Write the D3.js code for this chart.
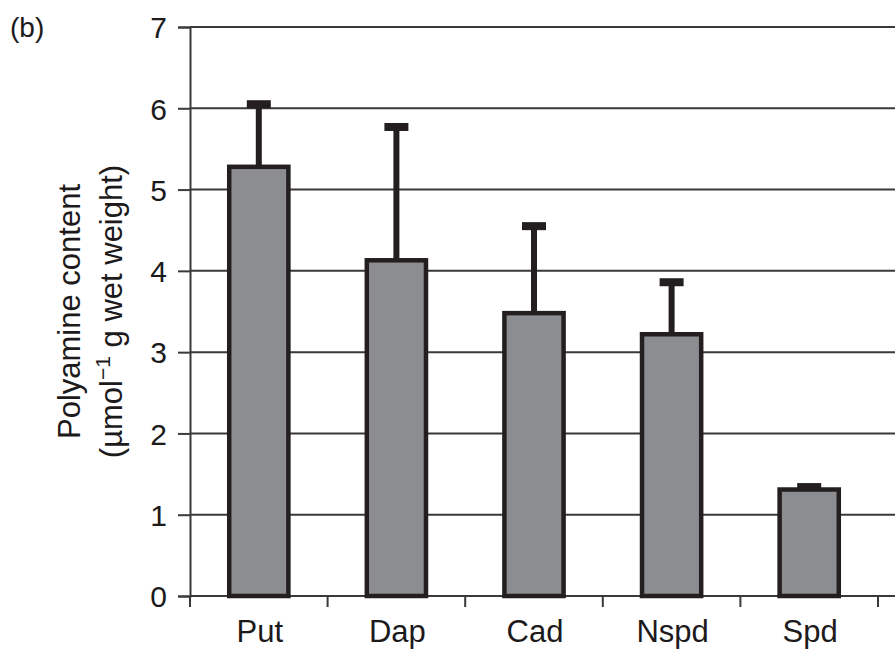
<!DOCTYPE html>
<html>
<head>
<meta charset="utf-8">
<script src="https://cdn.jsdelivr.net/npm/d3@7"></script>
<style>
  html, body { margin: 0; padding: 0; background: #fff; }
  svg { display: block; }
  text { font-family: "Liberation Sans", Arial, Helvetica, sans-serif; fill: #1c1a1b; }
</style>
</head>
<body>
<svg id="chart" width="895" height="649"></svg>
<script>
// Polyamine content per compound (mean and upper error limit)
const categories = ["Put", "Dap", "Cad", "Nspd", "Spd"];
const means      = [5.28, 4.13, 3.48, 3.22, 1.31];
const upperError = [6.05, 5.77, 4.55, 3.86, 1.34];
const yTicks     = [0, 1, 2, 3, 4, 5, 6, 7];

const width = 895, height = 649;
const margin = { top: 27, left: 190, bottom: 53 };
const plotRight = 878;

const svg = d3.select("#chart");

const x = d3.scaleBand()
  .domain(categories)
  .range([margin.left, plotRight])
  .padding(0);

const y = d3.scaleLinear()
  .domain([0, 7])
  .range([height - margin.bottom, margin.top]);

const ink = "#231f20";

// horizontal gridlines, running out to the edge of the figure
svg.append("g")
  .selectAll("line")
  .data(yTicks.filter(d => d > 0))
  .join("line")
  .attr("x1", margin.left)
  .attr("x2", width)
  .attr("y1", d => y(d))
  .attr("y2", d => y(d))
  .attr("stroke", "#3a3839")
  .attr("stroke-width", 2);

// y axis
const yAxis = svg.append("g")
  .attr("transform", `translate(${margin.left},0)`)
  .call(d3.axisLeft(y).tickValues(yTicks).tickSize(12).tickPadding(11).tickFormat(d3.format("d")));
yAxis.select(".domain").attr("stroke", "#3a3839").attr("stroke-width", 2);
yAxis.selectAll(".tick line").attr("stroke", "#3a3839").attr("stroke-width", 2);
yAxis.selectAll(".tick text")
  .attr("font-size", 30)
  .attr("dy", "0.36em")
  .style("fill", "#1c1a1b");

// x axis: ticks on category boundaries
const xAxisG = svg.append("g");
xAxisG.append("line")
  .attr("x1", margin.left).attr("x2", width)
  .attr("y1", y(0)).attr("y2", y(0))
  .attr("stroke", "#3a3839").attr("stroke-width", 2);
const boundaries = categories.map(c => x(c)).concat([x(categories[categories.length - 1]) + x.bandwidth()]);
xAxisG.selectAll("line.tick")
  .data(boundaries)
  .join("line")
  .attr("class", "tick")
  .attr("x1", d => d).attr("x2", d => d)
  .attr("y1", y(0)).attr("y2", y(0) + 11)
  .attr("stroke", "#3a3839").attr("stroke-width", 2);
xAxisG.selectAll("text")
  .data(categories)
  .join("text")
  .attr("x", d => x(d) + x.bandwidth() / 2 + 1)
  .attr("y", y(0) + 46)
  .attr("text-anchor", "middle")
  .attr("font-size", 31)
  .text(d => d);

const barW = x.bandwidth() * 0.43;
const cx = d => x(d) + x.bandwidth() / 2;

// error bars (upper only)
const err = svg.append("g");
err.selectAll("line")
  .data(categories)
  .join("line")
  .attr("x1", d => cx(d)).attr("x2", d => cx(d))
  .attr("y1", (d, i) => y(means[i]))
  .attr("y2", (d, i) => y(upperError[i]))
  .attr("stroke", ink)
  .attr("stroke-width", 6);
err.selectAll("rect")
  .data(categories)
  .join("rect")
  .attr("x", d => cx(d) - 12)
  .attr("width", 24)
  .attr("y", (d, i) => y(upperError[i]) - 4)
  .attr("height", 8)
  .attr("fill", ink);

// bars
svg.append("g")
  .selectAll("rect")
  .data(categories)
  .join("rect")
  .attr("x", d => cx(d) - barW / 2)
  .attr("width", barW)
  .attr("y", (d, i) => y(means[i]))
  .attr("height", (d, i) => y(0) - y(means[i]))
  .attr("fill", "#8c8d91")
  .attr("stroke", ink)
  .attr("stroke-width", 4.5);

// y axis title
const title = svg.append("text")
  .attr("transform", `translate(80, ${(y(0) + y(7)) / 2}) rotate(-90)`)
  .attr("text-anchor", "middle")
  .attr("font-size", 31);
title.append("tspan").attr("x", 0).attr("dy", 0).text("Polyamine content");
const l2 = title.append("tspan").attr("x", 0).attr("dy", 42);
l2.append("tspan").text("(µmol");
l2.append("tspan").attr("font-size", 21).attr("dy", -12).text("−1");
l2.append("tspan").attr("dy", 12).text(" g wet weight)");

// panel label
svg.append("text")
  .attr("x", 10)
  .attr("y", 37)
  .attr("font-size", 28)
  .text("(b)");
</script>
</body>
</html>
